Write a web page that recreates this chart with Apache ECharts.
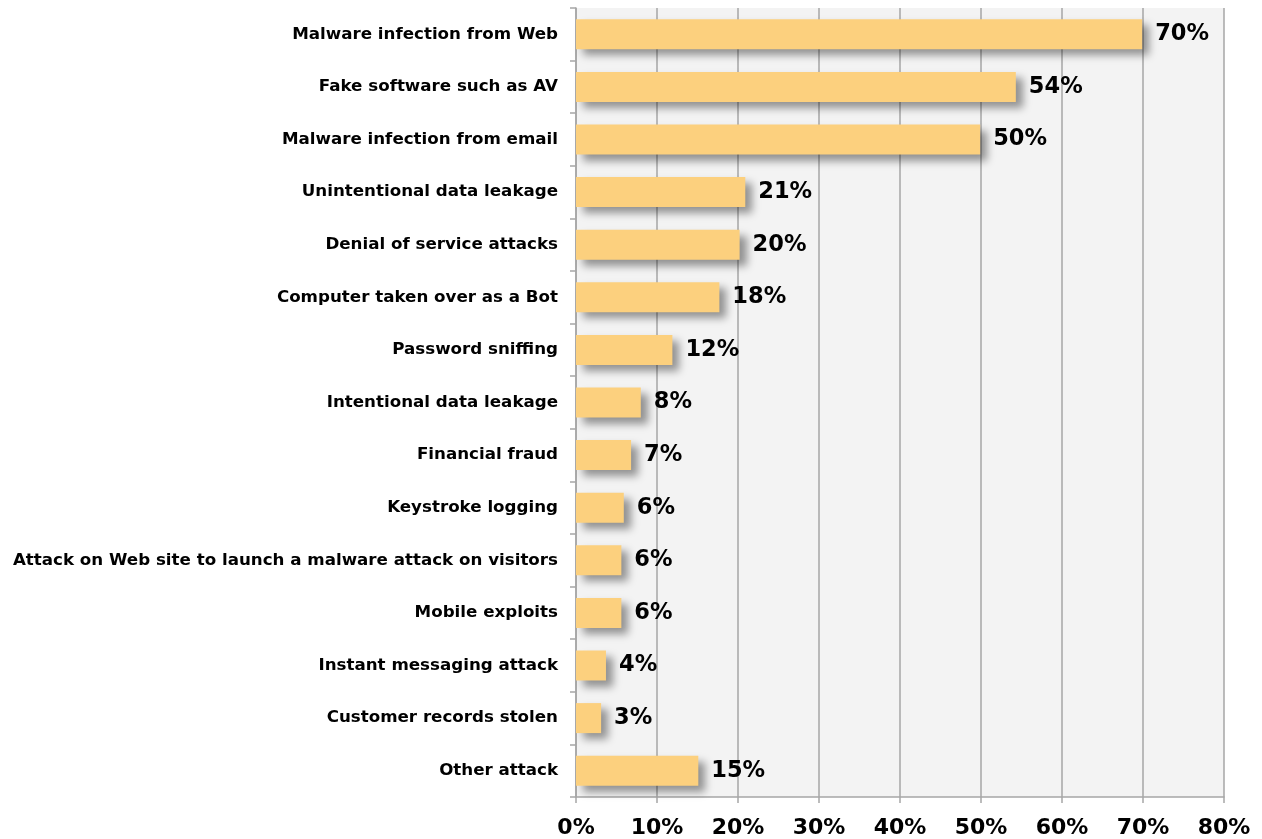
<!DOCTYPE html>
<html><head><meta charset="utf-8">
<script src="https://cdn.jsdelivr.net/npm/echarts@6/dist/echarts.min.js"></script>
<style>html,body{margin:0;padding:0;background:#fff}#c{width:1262px;height:839px}</style>
</head><body><div id="c"></div>
<script>
const categories = [
  "Malware infection from Web",
  "Fake software such as AV",
  "Malware infection from email",
  "Unintentional data leakage",
  "Denial of service attacks",
  "Computer taken over as a Bot",
  "Password sniffing",
  "Intentional data leakage",
  "Financial fraud",
  "Keystroke logging",
  "Attack on Web site to launch a malware attack on visitors",
  "Mobile exploits",
  "Instant messaging attack",
  "Customer records stolen",
  "Other attack"
];
const values = [69.9, 54.3, 49.9, 20.9, 20.2, 17.7, 11.9, 8.0, 6.8, 5.9, 5.6, 5.6, 3.7, 3.1, 15.1];
const valueLabels = ["70%","54%","50%","21%","20%","18%","12%","8%","7%","6%","6%","6%","4%","3%","15%"];
const xTicks = [0, 10, 20, 30, 40, 50, 60, 70, 80];

const chart = echarts.init(document.getElementById('c'), null, {renderer: 'canvas'});
const FONT = 'DejaVu Sans, Verdana, sans-serif';
chart.setOption({
  animation: false,
  backgroundColor: '#ffffff',
  grid: {left: 576, right: 38, top: 8, bottom: 42, show: true, backgroundColor: '#f3f3f3', borderWidth: 0},
  xAxis: {
    type: 'value', min: xTicks[0], max: xTicks[xTicks.length - 1], interval: 10,
    axisLine: {show: true, lineStyle: {color: '#a6a6a6', width: 1.5}},
    axisTick: {show: true, length: 6, lineStyle: {color: '#a6a6a6', width: 1.5}},
    splitLine: {show: true, lineStyle: {color: '#a6a6a6', width: 1.5}},
    axisLabel: {formatter: v => v + '%', color: '#000', fontFamily: FONT, fontWeight: 'bold', fontSize: 22, margin: 20}
  },
  yAxis: {
    type: 'category', data: categories, inverse: true,
    axisLine: {show: true, lineStyle: {color: '#a6a6a6', width: 1.5}},
    axisTick: {show: true, length: 6, lineStyle: {color: '#a6a6a6', width: 1.5}},
    axisLabel: {color: '#000', fontFamily: FONT, fontWeight: 'bold', fontSize: 16.7, margin: 18}
  },
  series: [{
    type: 'bar', data: values, barWidth: 30,
    itemStyle: {color: '#fcd07e', shadowColor: 'rgba(0,0,0,0.4)', shadowBlur: 8, shadowOffsetX: 7, shadowOffsetY: 6},
    label: {
      show: true, position: 'right', distance: 13,
      formatter: p => valueLabels[p.dataIndex],
      color: '#000', fontFamily: FONT, fontWeight: 'bold', fontSize: 22.5
    }
  }]
});
</script></body></html>
